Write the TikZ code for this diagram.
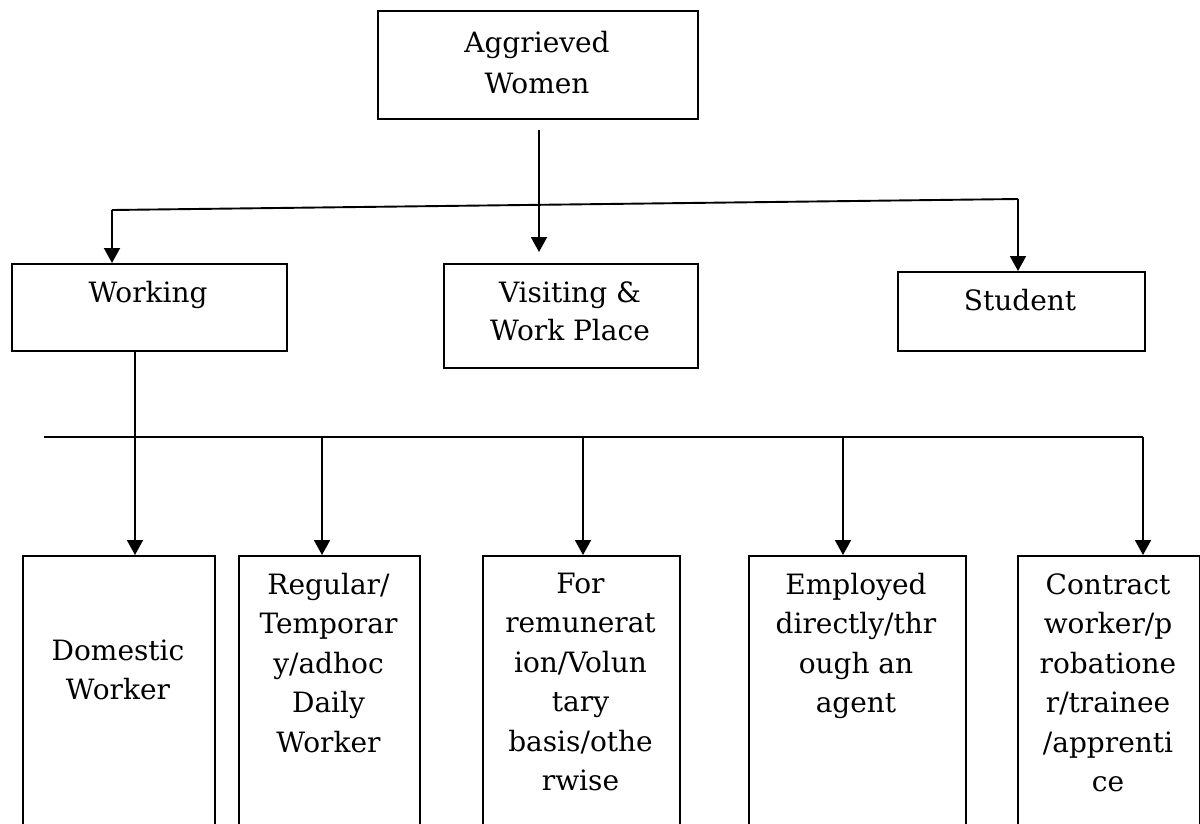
\documentclass[tikz,border=0pt]{standalone}
\usepackage{fontspec}
\setmainfont{DejaVu Serif}
\usetikzlibrary{arrows.meta}
\newcommand\firststrut{\rule{0pt}{24pt}}
\begin{document}
\begin{tikzpicture}[x=1pt,y=-1pt,
  box/.style={draw, line width=1.9pt, rectangle, inner sep=0pt, anchor=north west},
  lbl/.style={anchor=north, inner sep=0pt, align=center, font=\fontsize{28}{39.5}\selectfont},
  ln/.style={line width=1.9pt},
  arr/.style={line width=1.9pt, -{Triangle[length=15pt,width=16pt]}}]
\clip (0,0) rectangle (1200,823);
% boxes
\node[box, minimum width=320pt, minimum height=108pt] (top) at (377,10) {};
\node[box, minimum width=275pt, minimum height=87pt] (work) at (11,263) {};
\node[box, minimum width=254pt, minimum height=104pt] (visit) at (443,263) {};
\node[box, minimum width=247pt, minimum height=79pt] (stud) at (897,271) {};
\node[box, minimum width=192pt, minimum height=300pt] (b1) at (22,555) {};
\node[box, minimum width=181pt, minimum height=300pt] (b2) at (238,555) {};
\node[box, minimum width=197pt, minimum height=300pt] (b3) at (482,555) {};
\node[box, minimum width=217pt, minimum height=300pt] (b4) at (748,555) {};
\node[box, minimum width=182pt, minimum height=300pt] (b5) at (1017,555) {};
% labels
\node[lbl, font=\fontsize{28}{41}\selectfont] (ttop) at (537,28) {\firststrut Aggrieved\\Women};
\node[lbl] (twork) at (148,278) {\firststrut Working};
\node[lbl, font=\fontsize{28}{38}\selectfont] (tvisit) at (570,278) {\firststrut Visiting \&\\Work Place};
\node[lbl] (tstud) at (1020,286) {\firststrut Student};
\node[lbl] (tb1) at (118,636) {\firststrut Domestic\\Worker};
\node[lbl] (tb2) at (328.5,570) {\firststrut Regular/\\Temporar\\y/adhoc\\Daily\\Worker};
\node[lbl] (tb3) at (580.5,569) {\firststrut For\\remunerat\\ion/Volun\\tary\\basis/othe\\rwise};
\node[lbl] (tb4) at (856,570) {\firststrut Employed\\directly/thr\\ough an\\agent};
\node[lbl] (tb5) at (1108,570) {\firststrut Contract\\worker/p\\robatione\\r/trainee\\/apprenti\\ce};
% upper connectors
\coordinate (busL) at (112,210);
\coordinate (busR) at (1018,199);
\coordinate (mx) at (539,0);
\draw[ln] (busL) -- (busR);
\draw[arr] (busL) -- (busL |- work.north);
\draw[arr] (busR) -- (busR |- stud.north);
\draw[arr, shorten <=10pt, shorten >=11pt] (top.south -| mx) -- (visit.north -| mx);
% lower connectors
\coordinate (bus2L) at (44,437);
\coordinate (bus2R) at (1143,437);
\coordinate (a1) at (135,437);
\coordinate (a2) at (322,437);
\coordinate (a3) at (583,437);
\coordinate (a4) at (843,437);
\coordinate (a5) at (1143,437);
\draw[ln] (bus2L) -- (bus2R);
\draw[ln] (work.south -| a1) -- (a1);
\draw[arr] (a1) -- (a1 |- b1.north);
\draw[arr] (a2) -- (a2 |- b2.north);
\draw[arr] (a3) -- (a3 |- b3.north);
\draw[arr] (a4) -- (a4 |- b4.north);
\draw[arr] (a5) -- (a5 |- b5.north);
\end{tikzpicture}
\end{document}
